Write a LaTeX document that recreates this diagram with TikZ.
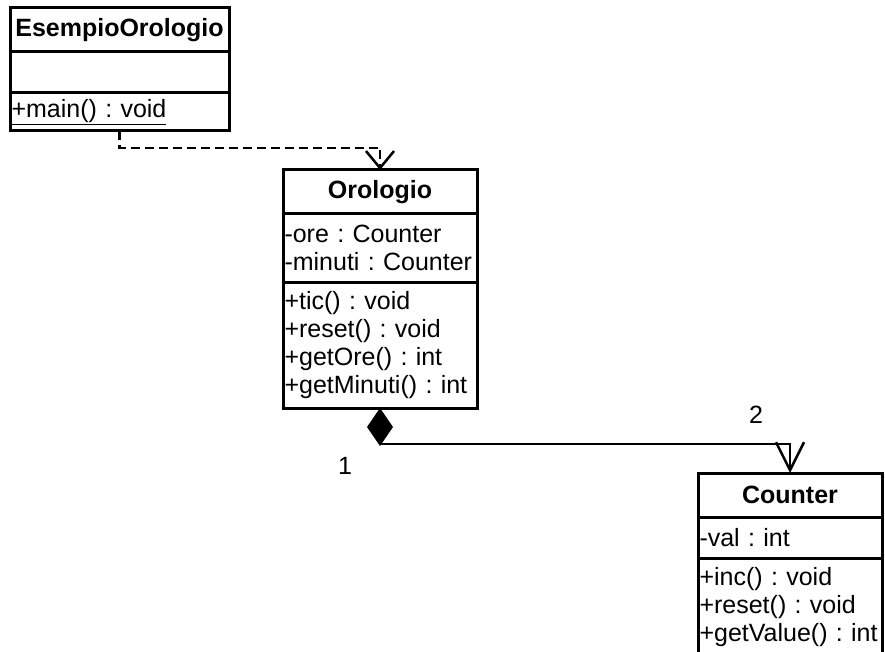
\documentclass[tikz,border=0pt]{standalone}
\usepackage{fontspec}
\setmainfont{Liberation Sans}
\usepackage{tikz}
\usetikzlibrary{arrows.meta,positioning,calc}
\newcommand{\umlfont}{\fontsize{25}{28}\selectfont\frenchspacing}

\begin{document}
\begin{tikzpicture}[x=1pt,y=-1pt,font=\umlfont,
    umlbox/.style={draw,line width=3pt,outer sep=0pt,inner xsep=1.5pt,inner ysep=0pt},
    umlname/.style={umlbox,font=\umlfont\bfseries,align=center,text width=#1,minimum height=44pt},
    umlpart/.style={umlbox,align=left,text width=#1},
    depend/.style={line width=2.5pt,dash pattern=on 9pt off 5pt,-{Straight Barb[length=17pt,width=28pt]}},
    compo/.style={line width=2.5pt,{Diamond[length=38pt,width=26pt]}-{Straight Barb[length=28pt,width=28pt]}}]
    % Class diagram: clock example
    \useasboundingbox (0,0) rectangle (885,652);
    \clip (0,0) rectangle (885,652);

    \node[umlname=216pt,anchor=north west] (esName) at (10,8) {EsempioOrologio};
    \node[umlpart=216pt,minimum height=41pt,below=0pt of esName] (esAttr) {};
    \node[umlpart=216pt,minimum height=38pt,below=0pt of esAttr] (esOps) {\underline{+main() : void}};

    \node[umlname=191pt,anchor=north west] (orName) at (283,170) {Orologio};
    \node[umlpart=191pt,minimum height=68pt,below=0pt of orName] (orAttr) {-ore : Counter\\-minuti : Counter};
    \node[umlpart=191pt,minimum height=126pt,below=0pt of orAttr] (orOps) {+tic() : void\\+reset() : void\\+getOre() : int\\+getMinuti() : int};

    \node[umlname=181pt,anchor=north west] (ctName) at (698,473) {Counter};
    \node[umlpart=181pt,minimum height=41pt,below=0pt of ctName] (ctAttr) {-val : int};
    \node[umlpart=181pt,minimum height=98pt,below=0pt of ctAttr] (ctOps) {+inc() : void\\+reset() : void\\+getValue() : int};

    \draw[depend] (esOps.south) -- ++(0,17) -| (orName.north);
    \draw[compo] (orOps.south) -- ++(0,36) -| (ctName.north);

    \node (multOre) at ($(orOps.south)+(-35,58)$) {1};
    \node (multCnt) at ($(ctName.north)+(-34,-58)$) {2};
\end{tikzpicture}
\end{document}
